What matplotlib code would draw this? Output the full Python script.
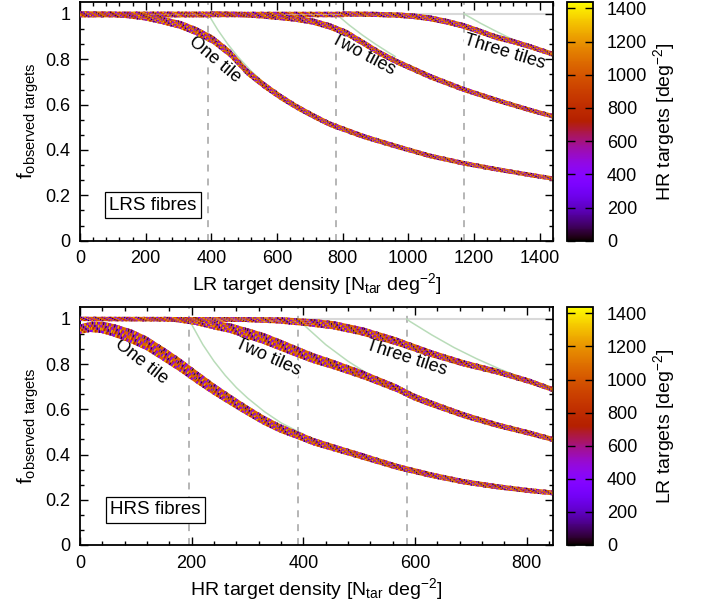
import numpy as np
import matplotlib
matplotlib.use("Agg")
import matplotlib.pyplot as plt
from matplotlib.collections import LineCollection
from matplotlib.colors import Normalize
from matplotlib.cm import ScalarMappable
from matplotlib.ticker import MultipleLocator, AutoMinorLocator

plt.rcParams['font.family'] = ['Liberation Sans', 'DejaVu Sans']
plt.rcParams['mathtext.fontset'] = 'custom'
plt.rcParams['mathtext.rm'] = 'Liberation Sans'
plt.rcParams['mathtext.it'] = 'Liberation Sans:italic'
plt.rcParams['lines.scale_dashes'] = False

# ---- LRS fibres: fraction observed vs LR target density ----
lr_one_x = [0, 100, 150, 200, 253, 305, 356, 406, 457, 508, 559, 609, 660, 711, 761, 863, 964, 1066, 1167, 1269, 1371, 1437]
lr_one_f = [1.0, 0.998, 0.993, 0.985, 0.97, 0.952, 0.923, 0.885, 0.826, 0.746, 0.687, 0.636, 0.59, 0.55, 0.514, 0.46, 0.416, 0.374, 0.342, 0.315, 0.29, 0.275]
lr_one_spread = [0.022, 0.022, 0.025, 0.028, 0.032, 0.035, 0.036, 0.036, 0.035, 0.032, 0.03, 0.028, 0.026, 0.025, 0.024, 0.022, 0.021, 0.02, 0.02, 0.019, 0.019, 0.019]

lr_two_x = [0, 400, 500, 570, 620, 660, 711, 761, 812, 863, 914, 964, 1066, 1167, 1269, 1371, 1437]
lr_two_f = [1.0, 1.0, 0.997, 0.99, 0.984, 0.978, 0.966, 0.945, 0.916, 0.872, 0.827, 0.79, 0.724, 0.668, 0.62, 0.576, 0.55]
lr_two_spread = [0.022, 0.022, 0.022, 0.024, 0.025, 0.026, 0.027, 0.028, 0.028, 0.027, 0.026, 0.025, 0.024, 0.022, 0.021, 0.02, 0.02]

lr_three_x = [0, 800, 900, 964, 1015, 1066, 1117, 1167, 1218, 1269, 1320, 1371, 1437]
lr_three_f = [1.0, 1.0, 0.998, 0.995, 0.99, 0.981, 0.966, 0.948, 0.923, 0.897, 0.878, 0.856, 0.824]
lr_three_spread = [0.022, 0.022, 0.022, 0.023, 0.024, 0.025, 0.025, 0.025, 0.025, 0.024, 0.023, 0.022, 0.022]

# simple N_fibre / density expectation
lr_green = [
    ([390, 420, 450, 480, 520, 560], [1.0, 0.929, 0.867, 0.8125, 0.75, 0.696]),
    ([780, 820, 860, 900, 940, 960], [1.0, 0.951, 0.907, 0.867, 0.83, 0.8125]),
    ([1170, 1220, 1260, 1300, 1340], [1.0, 0.959, 0.929, 0.9, 0.873]),
]
lr_tile_density = [390, 780, 1170]

# ---- HRS fibres: fraction observed vs HR target density ----
hr_one_x = [0, 20, 40, 60, 90, 119, 149, 179, 209, 239, 269, 298, 328, 358, 388, 418, 454, 507, 567, 627, 686, 746, 806, 845]
hr_one_f = [0.955, 0.965, 0.962, 0.95, 0.925, 0.892, 0.845, 0.796, 0.742, 0.69, 0.642, 0.597, 0.553, 0.516, 0.487, 0.457, 0.43, 0.391, 0.346, 0.31, 0.28, 0.258, 0.24, 0.231]
hr_one_spread = [0.04, 0.045, 0.05, 0.055, 0.06, 0.06, 0.06, 0.058, 0.055, 0.05, 0.046, 0.043, 0.04, 0.037, 0.034, 0.032, 0.03, 0.028, 0.026, 0.024, 0.023, 0.022, 0.021, 0.021]

hr_two_x = [0, 150, 179, 209, 239, 269, 298, 328, 358, 388, 418, 454, 507, 567, 597, 627, 686, 746, 806, 845]
hr_two_f = [1.0, 1.0, 0.996, 0.988, 0.973, 0.959, 0.937, 0.914, 0.885, 0.855, 0.826, 0.798, 0.752, 0.693, 0.656, 0.627, 0.575, 0.531, 0.494, 0.468]
hr_two_spread = [0.018, 0.018, 0.025, 0.032, 0.038, 0.042, 0.046, 0.048, 0.048, 0.046, 0.043, 0.04, 0.036, 0.032, 0.03, 0.028, 0.026, 0.024, 0.023, 0.022]

hr_three_x = [0, 300, 360, 418, 454, 507, 567, 627, 686, 746, 806, 845]
hr_three_f = [1.0, 0.997, 0.993, 0.982, 0.972, 0.944, 0.9, 0.848, 0.804, 0.767, 0.723, 0.689]
hr_three_spread = [0.018, 0.022, 0.028, 0.034, 0.036, 0.036, 0.034, 0.03, 0.027, 0.025, 0.023, 0.022]

hr_green = [
    ([195, 200, 220, 240, 260, 280, 300, 330, 360, 400], [1.0, 0.975, 0.886, 0.8125, 0.75, 0.696, 0.65, 0.59, 0.54, 0.49]),
    ([390, 400, 440, 480, 520, 560, 600], [1.0, 0.975, 0.886, 0.8125, 0.75, 0.696, 0.65]),
    ([585, 590, 630, 670, 710, 750, 790, 845], [1.0, 0.99, 0.929, 0.873, 0.824, 0.78, 0.74, 0.692]),
]
hr_tile_density = [195, 390, 585]

cbar_ticks = [0, 200, 400, 600, 800, 1000, 1200, 1400]

cmap = plt.get_cmap('gnuplot')
norm = Normalize(0, 1440)

# colour speckle used to fill each band (target-count value, dash on, dash off, phase)
speckle = [
    (450, 1.4, 3.6, 0.0),
    (780, 1.3, 4.7, 2.5),
    (1250, 1.1, 5.9, 4.0),
    (330, 1.0, 6.6, 5.5),
    (60, 0.8, 9.5, 1.0),
]
base_value = 1050
n_sub = 4

TICK_FS = 13
LABEL_FS = 14


def draw_band(ax, x, f, spread):
    fig = ax.figure
    x = np.asarray(x, float)
    f = np.asarray(f, float)
    spread = np.asarray(spread, float)
    disp = ax.transData.transform(np.column_stack([x, f]))
    px_per_f = ax.transData.transform((0, 1))[1] - ax.transData.transform((0, 0))[1]
    # keep the vertical thickness equal to the spread on sloped segments
    d = np.diff(disp, axis=0)
    cos_t = np.abs(d[:, 0]) / np.hypot(d[:, 0], d[:, 1])
    lw = spread[:-1] * px_per_f / n_sub * cos_t * 72 / fig.dpi * 1.1
    for k in range(n_sub):
        fk = f + ((k + 0.5) / n_sub - 0.5) * spread
        pts = np.column_stack([x, fk])
        segs = [pts[i:i + 2] for i in range(len(x) - 1)]
        ax.add_collection(LineCollection(segs, colors=[cmap(norm(base_value))], linewidths=lw,
                                         capstyle='round', zorder=3))
        for j, (val, on, off, phase) in enumerate(speckle):
            ax.add_collection(LineCollection(segs, colors=[cmap(norm(val))], linewidths=lw,
                                             linestyles=[(phase + 1.7 * k + 0.9 * j, (on, off))],
                                             capstyle='butt', zorder=3))


def style_axes(ax, xmax, xlabel):
    ax.set_xlim(0, xmax)
    ax.set_ylim(0, 1.054)
    ax.xaxis.set_major_locator(MultipleLocator(200))
    ax.xaxis.set_minor_locator(AutoMinorLocator(5))
    ax.yaxis.set_major_locator(MultipleLocator(0.2))
    ax.yaxis.set_minor_locator(AutoMinorLocator(3))
    ax.set_yticks([0, 0.2, 0.4, 0.6, 0.8, 1.0])
    ax.set_yticklabels(['0', '0.2', '0.4', '0.6', '0.8', '1'])
    ax.tick_params(which='both', direction='in', top=True, right=True, labelsize=TICK_FS, width=1, pad=7)
    ax.tick_params(which='major', length=6)
    ax.tick_params(which='minor', length=3)
    for s in ax.spines.values():
        s.set_linewidth(1.3)
    ax.set_xlabel(xlabel, fontsize=LABEL_FS, labelpad=3)
    ax.set_ylabel(r'f$_{\mathrm{observed\ targets}}$', fontsize=15, labelpad=3)


def style_cbar(cax, label):
    cb = plt.colorbar(ScalarMappable(norm=norm, cmap=cmap), cax=cax, ticks=cbar_ticks)
    cb.outline.set_linewidth(1.3)
    cax.tick_params(direction='in', length=6, width=1, labelsize=TICK_FS, pad=10, left=True)
    cb.set_label(label, fontsize=LABEL_FS, labelpad=3)


fig = plt.figure(figsize=(7.02, 6.06), dpi=100)
ax1 = fig.add_axes([0.1140, 0.6028, 0.6738, 0.3944])
cax1 = fig.add_axes([0.8077, 0.6028, 0.0370, 0.3944])
ax2 = fig.add_axes([0.1140, 0.1007, 0.6738, 0.3932])
cax2 = fig.add_axes([0.8077, 0.1007, 0.0370, 0.3932])

style_axes(ax1, 1441, r'LR target density [N$_{\mathrm{tar}}$ deg$^{-2}$]')
style_axes(ax2, 847, r'HR target density [N$_{\mathrm{tar}}$ deg$^{-2}$]')

panels = [
    (ax1, lr_tile_density, lr_green,
     [(lr_one_x, lr_one_f, lr_one_spread), (lr_two_x, lr_two_f, lr_two_spread), (lr_three_x, lr_three_f, lr_three_spread)]),
    (ax2, hr_tile_density, hr_green,
     [(hr_one_x, hr_one_f, hr_one_spread), (hr_two_x, hr_two_f, hr_two_spread), (hr_three_x, hr_three_f, hr_three_spread)]),
]

for ax, tiles, greens, bands in panels:
    ax.axhline(1, color='#d9d9d9', lw=1.5, zorder=1)
    for t in tiles:
        ax.axvline(t, color='#b0b0b0', lw=1.3, dashes=(5, 5), zorder=1)
    for gx, gf in greens:
        ax.plot(gx, gf, color='#b9dcb9', lw=1.1, zorder=2)
    for bx, bf, bs in bands:
        draw_band(ax, bx, bf, bs)

lab = dict(fontsize=13, ha='center', va='center', zorder=1.5,
           bbox=dict(facecolor='white', edgecolor='none', pad=0.5))
ax1.text(411, 0.80, 'One tile', rotation=-40, **lab)
ax1.text(862, 0.82, 'Two tiles', rotation=-28, **lab)
ax1.text(1294, 0.83, 'Three tiles', rotation=-17, **lab)
ax2.text(109, 0.81, 'One tile', rotation=-38, **lab)
ax2.text(336, 0.832, 'Two tiles', rotation=-24, **lab)
ax2.text(584, 0.83, 'Three tiles', rotation=-18, **lab)

box = dict(facecolor='white', edgecolor='black', lw=0.9, pad=3)
ax1.text(0.154, 0.149, 'LRS fibres', transform=ax1.transAxes, fontsize=13.5,
         ha='center', va='center', bbox=box, zorder=5)
ax2.text(0.159, 0.147, 'HRS fibres', transform=ax2.transAxes, fontsize=13.5,
         ha='center', va='center', bbox=box, zorder=5)

style_cbar(cax1, r'HR targets [deg$^{-2}$]')
style_cbar(cax2, r'LR targets [deg$^{-2}$]')

fig.savefig('out.png', dpi=100)
